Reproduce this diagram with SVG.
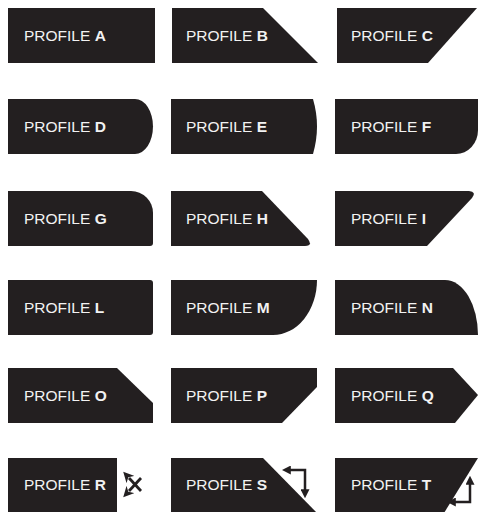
<svg xmlns="http://www.w3.org/2000/svg" width="478" height="512" viewBox="0 0 478 512">
<defs>
<style>
.s{fill:#231f20}
.t{font-family:"Liberation Sans",Arial,sans-serif;font-size:15.5px;fill:#f2f2f2}
.b{font-weight:bold}
.a{fill:none;stroke:#231f20;stroke-width:2.5}
.x{fill:none;stroke:#231f20;stroke-width:2.8}
</style>
<marker id="ah" viewBox="0 0 10 10" refX="2" refY="5" markerWidth="3.6" markerHeight="3.6" orient="auto-start-reverse" markerUnits="strokeWidth">
<path d="M0,0 L10,5 L0,10 Z" fill="#231f20"/>
</marker>
<marker id="ax" viewBox="0 0 10 10" refX="2" refY="5" markerWidth="3.8" markerHeight="3.8" orient="auto" markerUnits="strokeWidth">
<path d="M0,0 L10,5 L0,10 L3,5 Z" fill="#231f20"/>
</marker>
</defs>
<rect width="478" height="512" fill="#fff"/>
<g id="A"><path class="s" d="M8,8 H155 V63 H8 Z"/><text class="t" x="24" y="40.5">PROFILE <tspan class="b">A</tspan></text></g>
<g id="B"><path class="s" d="M172,8 H263 L318,63 H172 Z"/><text class="t" x="186" y="40.5">PROFILE <tspan class="b">B</tspan></text></g>
<g id="C"><path class="s" d="M337,8 H477 L428,63 H337 Z"/><text class="t" x="351" y="40.5">PROFILE <tspan class="b">C</tspan></text></g>

<g id="D"><path class="s" d="M8,99 H135 A18,27.5 0 0 1 135,154 H8 Z"/><text class="t" x="24" y="131.5">PROFILE <tspan class="b">D</tspan></text></g>
<g id="E"><path class="s" d="M171,99 H313 Q321,126.5 313,154 H171 Z"/><text class="t" x="186" y="131.5">PROFILE <tspan class="b">E</tspan></text></g>
<g id="F"><path class="s" d="M335,99 H478 V130 A22,24 0 0 1 456,154 H335 Z"/><text class="t" x="351" y="131.5">PROFILE <tspan class="b">F</tspan></text></g>

<g id="G"><path class="s" d="M8,191 H131 A22,22 0 0 1 153,213 V243 Q153,246 150,246 H8 Z"/><text class="t" x="24" y="223.5">PROFILE <tspan class="b">G</tspan></text></g>
<g id="H"><path class="s" d="M171,191 H262 L308,239 Q313,246 305,246 H171 Z"/><text class="t" x="186" y="223.5">PROFILE <tspan class="b">H</tspan></text></g>
<g id="I"><path class="s" d="M335,191 H469 Q477,192 472,198 L427,246 H335 Z"/><text class="t" x="351" y="223.5">PROFILE <tspan class="b">I</tspan></text></g>

<g id="L"><path class="s" d="M8,280 H150 Q153,280 153,283 V332 Q153,335 150,335 H8 Z"/><text class="t" x="24" y="312.5">PROFILE <tspan class="b">L</tspan></text></g>
<g id="M"><path class="s" d="M171,280 H317 A44,55 0 0 1 273,335 H171 Z"/><text class="t" x="186" y="312.5">PROFILE <tspan class="b">M</tspan></text></g>
<g id="N"><path class="s" d="M335,280 H445 A33,55 0 0 1 478,335 H335 Z"/><text class="t" x="351" y="312.5">PROFILE <tspan class="b">N</tspan></text></g>

<g id="O"><path class="s" d="M8,368 H117 L153,403 V423 H8 Z"/><text class="t" x="24" y="400.5">PROFILE <tspan class="b">O</tspan></text></g>
<g id="P"><path class="s" d="M171,368 H317 V387 L282,423 H171 Z"/><text class="t" x="186" y="400.5">PROFILE <tspan class="b">P</tspan></text></g>
<g id="Q"><path class="s" d="M335,368 H453 L478,395 L455,423 H335 Z"/><text class="t" x="351" y="400.5">PROFILE <tspan class="b">Q</tspan></text></g>

<g id="R"><path class="s" d="M8,458 H117 V513 H8 Z"/><text class="t" x="24" y="489.5">PROFILE <tspan class="b">R</tspan></text></g>
<g id="S"><path class="s" d="M171,458 H263 L317,513 H171 Z"/><text class="t" x="186" y="489.5">PROFILE <tspan class="b">S</tspan></text></g>
<g id="T"><path class="s" d="M335,458 H478 L444,513 H335 Z"/><text class="t" x="351" y="489.5">PROFILE <tspan class="b">T</tspan></text></g>

<g id="arrows">
<path class="x" d="M141,478 L129,491" marker-end="url(#ax)"/>
<path class="x" d="M141,491 L129,478" marker-end="url(#ax)"/>
<path class="a" d="M305,491 V470 H289" marker-start="url(#ah)" marker-end="url(#ah)"/>
<path class="a" d="M470,483 V502 H454" marker-start="url(#ah)" marker-end="url(#ah)"/>
</g>
</svg>
